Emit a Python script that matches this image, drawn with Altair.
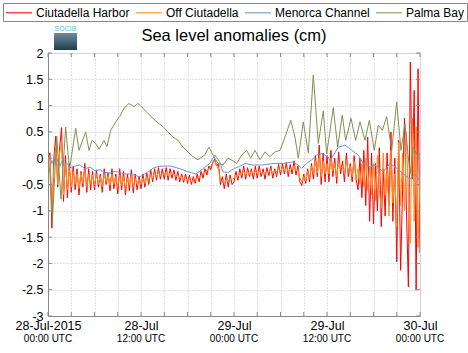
import altair as alt
import pandas as pd

SERIES = ["Ciutadella Harbor", "Off Ciutadella", "Menorca Channel", "Palma Bay"]
COLORS = ["#ff0000", "#ff8c1a", "#7094cc", "#7f9150"]
TITLE = "Sea level anomalies (cm)"

# 15-minute samples starting 28-Jul-2015 00:00 UTC
STEP_HOURS = 0.25
harbor = [
    -0.05, 0.1, -1.33, 0.0, 0.42, -0.55, 0.2, 0.58, -0.82, 0.05, -0.75, -0.1,
    -0.65, -0.15, -0.6, -0.2, -0.7, -0.25, -0.55, -0.1, -0.65, -0.2, -0.6, -0.25,
    -0.6, -0.22, -0.55, -0.3, -0.65, -0.2, -0.5, -0.28, -0.62, -0.2, -0.58, -0.3,
    -0.68, -0.2, -0.6, -0.25, -0.7, -0.3, -0.62, -0.22, -0.66, -0.3, -0.6, -0.35,
    -0.58, -0.3, -0.55, -0.28, -0.5, -0.22, -0.45, -0.2, -0.42, -0.18, -0.4, -0.2,
    -0.4, -0.18, -0.42, -0.2, -0.38, -0.22, -0.42, -0.25, -0.45, -0.3, -0.46, -0.3,
    -0.48, -0.32, -0.5, -0.35, -0.48, -0.3, -0.45, -0.25, -0.38, -0.2, -0.32, -0.15,
    -0.22, -0.08, -0.02, -0.15, -0.1, -0.5, -0.35, -0.58, -0.3, -0.55, -0.32, -0.5,
    -0.45, -0.25, -0.42, -0.2, -0.38, -0.15, -0.4, -0.18, -0.35, -0.2, -0.4, -0.15,
    -0.38, -0.15, -0.35, -0.2, -0.4, -0.18, -0.33, -0.15, -0.38, -0.2, -0.35, -0.12,
    -0.32, -0.1, -0.3, -0.08, -0.35, -0.12, -0.3, -0.05, -0.32, -0.15, -0.45, -0.52,
    -0.3, -0.48, -0.2, -0.45, -0.1, -0.4, 0.05, -0.35, 0.25, -0.5, 0.1, -0.45,
    0.05, -0.45, 0.15, -0.35, 0.0, -0.48, 0.12, -0.3, -0.05, -0.45, 0.1, -0.35,
    -0.1, -0.45, 0.05, -0.4, -0.6, 0.0, -0.75, 0.15, -0.9, 0.4, -1.2, 0.1,
    -1.25, -0.1, -1.0, 0.2, -1.3, -0.2, -1.1, 0.1, -0.9, 0.5, -1.2, 0.0,
    -1.97, 0.34, -2.13, -0.6, 0.76, -1.0, -2.45, 1.83, -0.4, 1.29, -2.51, 1.7,
    -1.8,
]
off_ciutadella = [
    -0.05, 0.05, -1.0, -0.2, 0.25, -0.5, 0.1, 0.3, -0.7, -0.1, -0.6, -0.2,
    -0.55, -0.25, -0.5, -0.3, -0.58, -0.28, -0.48, -0.22, -0.55, -0.3, -0.5, -0.32,
    -0.5, -0.3, -0.48, -0.35, -0.55, -0.3, -0.45, -0.33, -0.52, -0.3, -0.5, -0.35,
    -0.55, -0.32, -0.52, -0.35, -0.58, -0.38, -0.52, -0.32, -0.55, -0.38, -0.5, -0.4,
    -0.5, -0.38, -0.48, -0.35, -0.42, -0.3, -0.38, -0.28, -0.35, -0.27, -0.33, -0.28,
    -0.32, -0.26, -0.34, -0.28, -0.32, -0.3, -0.35, -0.32, -0.38, -0.35, -0.4, -0.38,
    -0.42, -0.4, -0.44, -0.42, -0.4, -0.37, -0.36, -0.32, -0.3, -0.26, -0.24, -0.2,
    -0.15, -0.1, -0.05, -0.12, -0.22, -0.42, -0.45, -0.48, -0.4, -0.45, -0.38, -0.4,
    -0.38, -0.32, -0.35, -0.28, -0.3, -0.25, -0.32, -0.26, -0.3, -0.25, -0.3, -0.24,
    -0.3, -0.24, -0.28, -0.26, -0.3, -0.25, -0.27, -0.22, -0.28, -0.24, -0.26, -0.2,
    -0.25, -0.18, -0.24, -0.18, -0.26, -0.2, -0.22, -0.15, -0.24, -0.22, -0.38, -0.45,
    -0.35, -0.42, -0.25, -0.38, -0.15, -0.3, -0.05, -0.28, 0.05, -0.35, -0.05, -0.3,
    -0.1, -0.3, 0.0, -0.25, -0.1, -0.35, -0.05, -0.2, -0.15, -0.3, -0.05, -0.25,
    -0.15, -0.35, -0.05, -0.4, -0.2, -0.5, -0.1, -0.55, 0.0, -0.6, -0.15, -0.7,
    -0.1, -0.8, 0.05, -0.6, -0.95, 0.1, -0.7, -0.2, -1.1, 0.15, -0.85, -0.3,
    -1.3, 0.3, -0.9, 0.1, -1.0, 0.5, -0.8, -1.62, 0.76, -1.2, 0.6, -1.7,
    -0.3,
]

channel_hours = [
    0.0, 0.26, 0.52, 0.77, 1.03, 1.29, 1.55, 1.81, 2.06, 2.45, 2.84, 3.48, 4.13,
    4.77, 5.42, 6.06, 6.71, 7.35, 8.0, 8.65, 9.29, 9.94, 10.58, 11.23, 11.87,
    12.48, 13.03, 13.55, 14.19, 14.84, 15.87, 16.77, 17.42, 18.06, 19.1, 20.0,
    20.86, 21.55, 22.15, 22.58, 23.23, 24.09, 24.52, 25.42, 26.45, 27.74, 29.03,
    30.32, 31.61, 32.26, 32.74, 33.38, 34.03, 34.67, 35.32, 36.13, 36.39, 37.46,
    38.32, 39.19, 40.04, 40.68, 41.55, 42.19, 43.26, 44.13, 44.99, 45.85, 46.71,
    47.35, 48.0,
]
channel_values = [
    -0.04, 0.02, -0.1, 0.0, -0.12, -0.02, -0.15, -0.05, -0.15, -0.1, -0.18, -0.15, -0.13,
    -0.2, -0.17, -0.24, -0.22, -0.27, -0.28, -0.25, -0.27, -0.3, -0.3, -0.33, -0.35,
    -0.3, -0.25, -0.19, -0.16, -0.15, -0.15, -0.19, -0.22, -0.26, -0.3, -0.2,
    -0.1, 0.06, -0.07, -0.26, -0.27, -0.19, -0.17, -0.1, -0.13, -0.13, -0.1,
    -0.1, -0.07, -0.13, -0.19, -0.1, -0.03, 0.06, 0.09, 0.03, -0.05, 0.21,
    0.25, 0.15, 0.06, -0.1, -0.17, -0.13, -0.26, -0.1, -0.19, -0.3, -0.4,
    -0.3, -0.43,
]

palma_hours = [
    0.0, 0.26, 0.58, 1.12, 1.68, 2.28, 2.77, 3.57, 4.0, 4.86, 5.29, 5.68, 6.15,
    6.58, 7.23, 7.61, 8.09, 8.74, 9.29, 9.81, 10.45, 11.1, 11.61, 12.26, 12.9,
    13.55, 14.19, 14.84, 15.48, 16.13, 16.77, 17.42, 18.06, 18.71, 19.35, 20.22,
    20.77, 21.29, 21.94, 22.58, 23.23, 23.87, 24.35, 24.99, 25.64, 26.15, 26.71,
    27.35, 28.0, 28.65, 29.29, 29.94, 30.58, 31.32, 31.87, 32.3, 32.94, 33.59,
    34.23, 34.88, 35.52, 35.96, 36.81, 37.38, 37.97, 38.41, 39.1, 39.7, 40.26,
    40.9, 41.46, 42.1, 42.62, 43.14, 43.7, 44.35, 44.99, 45.55, 46.06, 46.71,
    47.13, 47.74, 48.0,
]
palma_values = [
    0.0, -0.3, -1.18, 0.42, -0.78, 0.59, -0.22, 0.57, 0.15, 0.5, 0.15, 0.34, 0.28,
    0.17, 0.34, 0.22, 0.53, 0.69, 0.8, 0.95, 1.04, 0.98, 1.04, 0.95, 0.85,
    0.76, 0.67, 0.6, 0.5, 0.4, 0.34, 0.21, 0.12, 0.03, -0.03, 0.06,
    0.21, 0.06, -0.1, -0.13, 0.0, -0.05, -0.1, 0.06, 0.15, 0.0, 0.15,
    -0.03, 0.12, 0.03, 0.12, 0.15, 0.4, 0.72, 0.4, 0.0, 0.69, 0.1,
    1.58, 0.28, 0.9, 0.08, 0.96, 0.21, 0.82, 0.34, 0.76, 0.34, 0.69,
    0.34, 0.72, 0.15, 0.63, 0.53, 0.79, 0.15, 1.07, 0.15, 0.65, -0.3,
    0.21, 0.03, 0.1,
]

tick_hours = list(range(0, 49, 3))
label_hours = [0, 12, 24, 36, 48]
date_labels = ["28-Jul-2015", "28-Jul", "29-Jul", "29-Jul", "30-Jul"]
time_labels = ["00:00 UTC", "12:00 UTC", "00:00 UTC", "12:00 UTC", "00:00 UTC"]
y_ticks = [-3, -2.5, -2, -1.5, -1, -0.5, 0, 0.5, 1, 1.5, 2]

W, H = 372, 263
FONT = "Liberation Sans"

rows = []
for i, v in enumerate(harbor):
    rows.append({"hour": i * STEP_HOURS, "value": v, "series": SERIES[0]})
for i, v in enumerate(off_ciutadella):
    rows.append({"hour": i * STEP_HOURS, "value": v, "series": SERIES[1]})
for h, v in zip(channel_hours, channel_values):
    rows.append({"hour": h, "value": v, "series": SERIES[2]})
for h, v in zip(palma_hours, palma_values):
    rows.append({"hour": h, "value": v, "series": SERIES[3]})
df = pd.DataFrame(rows)

label_expr = " : ".join(
    f"datum.value == {h} ? '{t}'" for h, t in zip(label_hours, date_labels)
) + " : ''"

x_axis = alt.Axis(values=tick_hours, grid=True, gridColor="#c4c4c4", gridDash=[1, 2],
                  ticks=False, domainColor="#888", labelExpr=label_expr,
                  labelFontSize=12.5, labelFont=FONT, labelPadding=3, labelFlush=False,
                  labelOverlap=False, labelColor="black")
y_axis = alt.Axis(values=y_ticks, grid=True, gridColor="#c4c4c4", gridDash=[1, 2],
                  ticks=False, domainColor="#888", labelExpr="datum.value + ''",
                  labelFontSize=12.5, labelFont=FONT, labelPadding=5, labelColor="black")
xs = alt.Scale(domain=[0, 48], nice=False, zero=False)
ys = alt.Scale(domain=[-3, 2], nice=False, zero=False)

def X(field="hour"):
    return alt.X(f"{field}:Q", scale=xs, axis=x_axis, title=None)

def Y(field="value"):
    return alt.Y(f"{field}:Q", scale=ys, axis=y_axis, title=None)

color = alt.Color("series:N", scale=alt.Scale(domain=SERIES, range=COLORS),
                  legend=alt.Legend(title=None, orient="none", legendX=-45, legendY=-50,
                                    direction="horizontal", symbolType="M-1,0H3",
                                    symbolSize=169, symbolStrokeWidth=1.5,
                                    symbolOpacity=0.7,
                                    labelFontSize=12, labelFont=FONT, labelOffset=16,
                                    columnPadding=3, padding=2, strokeColor="#888",
                                    fillColor="white", labelColor="black"))

layers = []
for s in SERIES:
    layers.append(
        alt.Chart(df).transform_filter(alt.datum.series == s)
        .mark_line(strokeWidth=1, clip=True)
        .encode(x=X(), y=Y(), color=color)
    )

xt = pd.DataFrame({"hour": tick_hours})
yt = pd.DataFrame({"value": y_ticks})
tick_color = "#888"
layers.append(alt.Chart(xt).mark_rule(color=tick_color).encode(x=X(), y=alt.value(H), y2=alt.value(H - 4)))
layers.append(alt.Chart(xt).mark_rule(color=tick_color).encode(x=X(), y=alt.value(0), y2=alt.value(4)))
layers.append(alt.Chart(yt).mark_rule(color=tick_color).encode(y=Y(), x=alt.value(0), x2=alt.value(4)))
layers.append(alt.Chart(yt).mark_rule(color=tick_color).encode(y=Y(), x=alt.value(W), x2=alt.value(W - 4)))

tl = pd.DataFrame({"hour": label_hours, "time": time_labels})
layers.append(alt.Chart(tl).mark_text(fontSize=10, font=FONT, baseline="middle", align="center", color="black")
              .encode(x=X(), y=alt.value(H + 23), text="time:N"))

title_df = pd.DataFrame({"title": [TITLE]})
layers.append(alt.Chart(title_df).mark_text(fontSize=16.5, font=FONT, baseline="alphabetic",
                                            align="center", color="black")
              .encode(x=alt.value(W / 2), y=alt.value(-12), text="title:N"))

logo = pd.DataFrame({"name": ["SOCIB"]})
grad = alt.LinearGradient(gradient="linear",
                          stops=[alt.GradientStop(color="#6f8d9c", offset=0),
                                 alt.GradientStop(color="#1f3c4d", offset=1)],
                          x1=0, x2=0, y1=0, y2=1)
layers.append(alt.Chart(logo).mark_rect(color=grad).encode(
    x=alt.value(6), x2=alt.value(29), y=alt.value(-20), y2=alt.value(-3)))
layers.append(alt.Chart(logo).mark_text(fontSize=7, font=FONT, color="#5bbfd8", baseline="middle", align="center")
              .encode(x=alt.value(17.5), y=alt.value(-24), text="name:N"))

chart = alt.layer(*layers).properties(
    width=W, height=H,
    autosize=alt.AutoSizeParams(type="none"),
    padding={"left": 48, "top": 53, "right": 48, "bottom": 37},
).configure_view(stroke="#888", strokeWidth=1).configure(font=FONT)

chart.save("out.html", embed_options={"renderer": "svg", "actions": False})
